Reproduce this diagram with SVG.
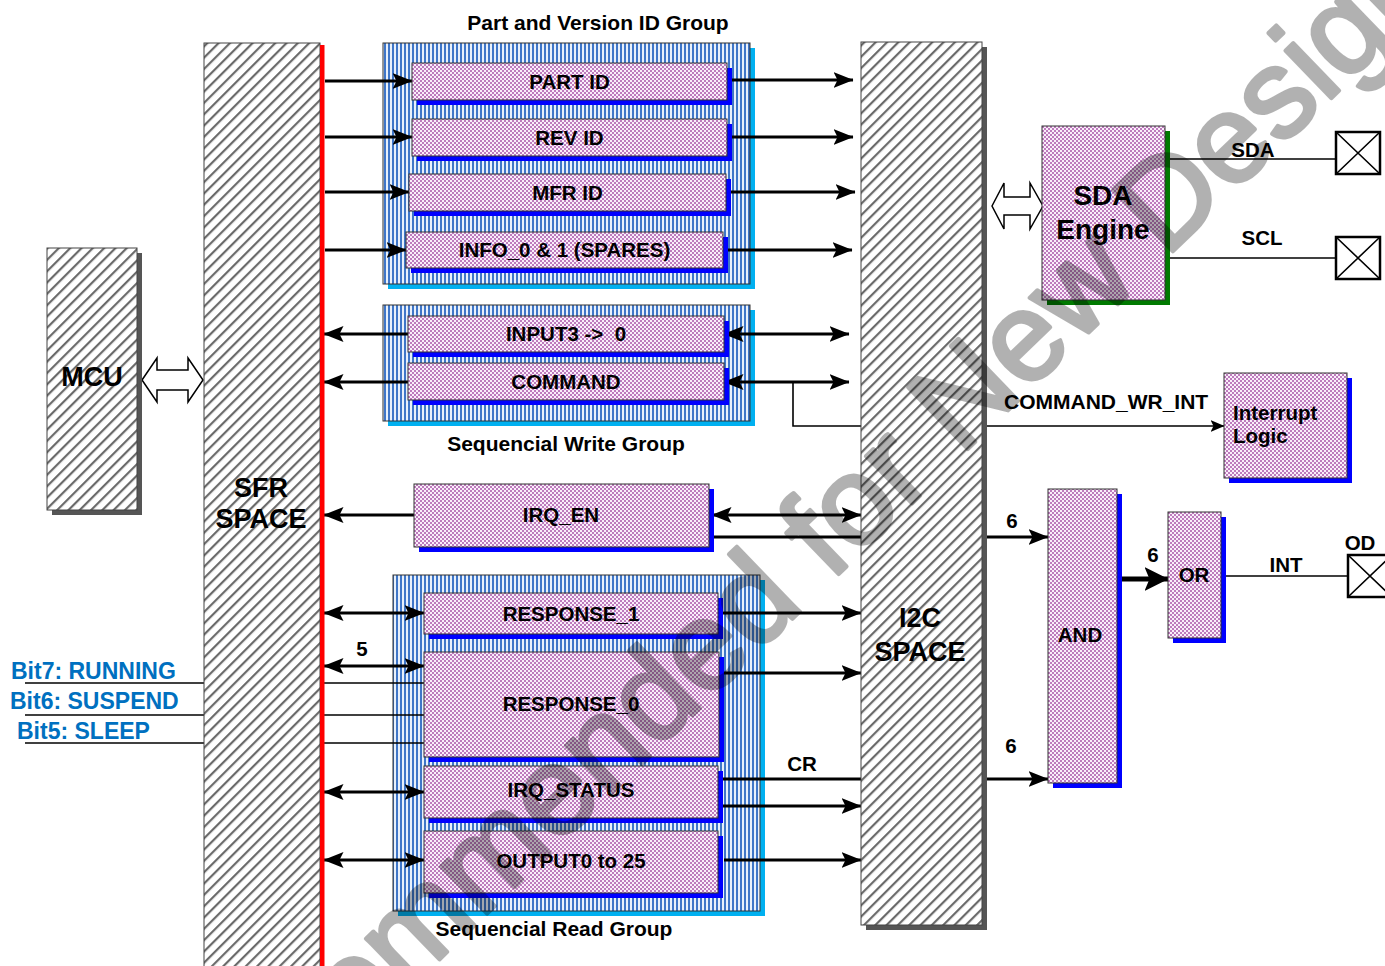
<svg xmlns="http://www.w3.org/2000/svg" width="1385" height="966" viewBox="0 0 1385 966">
<style>
text{font-family:"Liberation Sans",Arial,sans-serif;font-weight:bold;fill:#000}
.lbl{font-size:20.5px;text-anchor:middle}
.ttl{font-size:21px;text-anchor:middle}
.big{font-size:27px;text-anchor:middle}
.bit{font-size:23px;fill:#0070c0}
.reg{fill:url(#dots);stroke:#333;stroke-width:1}
.regsh{fill:#0000ff}
.grp{fill:url(#stripes);stroke:#333;stroke-width:1}
.grpsh{fill:#00b0f0}
.hat{fill:url(#hatch);stroke:#444;stroke-width:1}
.sh{fill:#555}
.w3{stroke:#000;stroke-width:3;fill:none}
.w1{stroke:#000;stroke-width:1.6;fill:none}
.pad{fill:#fff;stroke:#000;stroke-width:2.5}
.hollow{fill:#fff;stroke:#000;stroke-width:1.5}
</style>
<defs>
<pattern id="hatch" width="8" height="8" patternUnits="userSpaceOnUse" patternTransform="rotate(45)">
<rect width="8" height="8" fill="#fff"/>
<rect width="2.2" height="8" fill="#6a6a6a"/>
</pattern>
<pattern id="dots" width="4" height="4" patternUnits="userSpaceOnUse">
<rect width="4" height="4" fill="#faeefa"/>
<rect x="0" y="0" width="2" height="2" fill="#bd7bbd"/>
<rect x="2" y="2" width="2" height="2" fill="#bd7bbd"/>
</pattern>
<pattern id="stripes" width="4" height="4" patternUnits="userSpaceOnUse">
<rect width="4" height="4" fill="#e8f0fb"/>
<rect width="2" height="4" fill="#3f76c8"/>
</pattern>
<marker id="ah" markerUnits="userSpaceOnUse" viewBox="0 0 20 16" markerWidth="20" markerHeight="16" refX="19.5" refY="8" orient="auto-start-reverse">
<path d="M0,0 L20,8 L0,16 L4,8 Z" fill="#000"/>
</marker>
<marker id="ahs" markerUnits="userSpaceOnUse" viewBox="0 0 14 12" markerWidth="14" markerHeight="12" refX="13.5" refY="6" orient="auto">
<path d="M0,0 L14,6 L0,12 L3,6 Z" fill="#000"/>
</marker>
<marker id="ahb" markerUnits="userSpaceOnUse" viewBox="0 0 24 24" markerWidth="24" markerHeight="24" refX="23.5" refY="12" orient="auto">
<path d="M0,0 L24,12 L0,24 L5,12 Z" fill="#000"/>
</marker>
<marker id="dot" markerUnits="userSpaceOnUse" viewBox="0 0 8 8" markerWidth="8" markerHeight="8" refX="4" refY="4">
<circle cx="4" cy="4" r="3.5" fill="#000"/>
</marker>
</defs>
<rect width="1385" height="966" fill="#fff"/>

<!-- group containers -->
<g id="part-version-group">
<rect x="388" y="48" width="367" height="241" class="grpsh"/>
<rect x="383" y="43" width="367" height="241" class="grp"/>
<text x="598" y="30" class="ttl">Part and Version ID Group</text>
</g>
<g id="seq-write-group">
<rect x="388" y="310" width="367" height="116" class="grpsh"/>
<rect x="383" y="305" width="367" height="116" class="grp"/>
<text x="566" y="451" class="ttl">Sequencial Write Group</text>
</g>
<g id="seq-read-group">
<rect x="398" y="580" width="367" height="336" class="grpsh"/>
<rect x="393" y="575" width="367" height="336" class="grp"/>
<text x="554" y="936" class="ttl">Sequencial Read Group</text>
</g>

<!-- connectors -->
<g id="connectors">
<line x1="325" y1="81" x2="412" y2="81" class="w3" marker-end="url(#ah)"/>
<line x1="325" y1="137" x2="412" y2="137" class="w3" marker-end="url(#ah)"/>
<line x1="325" y1="192" x2="409" y2="192" class="w3" marker-end="url(#ah)"/>
<line x1="325" y1="250" x2="406" y2="250" class="w3" marker-end="url(#ah)"/>
<line x1="727" y1="80" x2="853" y2="80" class="w3" marker-end="url(#ah)"/>
<line x1="727" y1="137" x2="853" y2="137" class="w3" marker-end="url(#ah)"/>
<line x1="726" y1="192" x2="855" y2="192" class="w3" marker-end="url(#ah)"/>
<line x1="723" y1="250" x2="852" y2="250" class="w3" marker-end="url(#ah)"/>

<line x1="408" y1="334" x2="324" y2="334" class="w3" marker-end="url(#ah)"/>
<line x1="408" y1="382" x2="324" y2="382" class="w3" marker-end="url(#ah)"/>
<line x1="724" y1="334" x2="849" y2="334" class="w3" marker-start="url(#ah)" marker-end="url(#ah)"/>
<line x1="724" y1="382" x2="849" y2="382" class="w3" marker-start="url(#ah)" marker-end="url(#ah)"/>
<polyline points="793,382 793,426 1224,426" class="w1" marker-end="url(#ahs)"/>

<line x1="414" y1="515" x2="324" y2="515" class="w3" marker-end="url(#ah)"/>
<line x1="712" y1="515" x2="861" y2="515" class="w3" marker-start="url(#ah)" marker-end="url(#ah)"/>
<line x1="711" y1="537" x2="1048" y2="537" class="w3" marker-end="url(#ah)"/>

<line x1="324" y1="613" x2="424" y2="613" class="w3" marker-start="url(#ah)" marker-end="url(#ah)"/>
<line x1="324" y1="666" x2="424" y2="666" class="w3" marker-start="url(#ah)" marker-end="url(#ah)"/>
<line x1="324" y1="792" x2="424" y2="792" class="w3" marker-start="url(#ah)" marker-end="url(#ah)"/>
<line x1="324" y1="860" x2="424" y2="860" class="w3" marker-start="url(#ah)" marker-end="url(#ah)"/>
<line x1="718" y1="613" x2="861" y2="613" class="w3" marker-end="url(#ah)"/>
<line x1="724" y1="673" x2="861" y2="673" class="w3" marker-end="url(#ah)"/>
<line x1="718" y1="806" x2="861" y2="806" class="w3" marker-end="url(#ah)"/>
<line x1="724" y1="860" x2="861" y2="860" class="w3" marker-end="url(#ah)"/>
<line x1="718" y1="779" x2="1048" y2="779" class="w3" marker-end="url(#ah)"/>

<line x1="25" y1="683" x2="424" y2="683" class="w1"/>
<line x1="25" y1="715" x2="424" y2="715" class="w1"/>
<line x1="25" y1="743" x2="424" y2="743" class="w1"/>

<line x1="1165" y1="159" x2="1336" y2="159" class="w1"/>
<line x1="1165" y1="258" x2="1336" y2="258" class="w1"/>
<line x1="1116" y1="579" x2="1168" y2="579" stroke="#000" stroke-width="5" marker-start="url(#dot)" marker-end="url(#ahb)"/>
<line x1="1221" y1="576" x2="1348" y2="576" class="w1"/>

<polygon points="142,380 157,358 157,370 188,370 188,358 203,380 188,402 188,390 157,390 157,402" class="hollow"/>
<polygon points="992,206 1004,183 1004,197 1030,197 1030,183 1043,206 1030,229 1030,215 1004,215 1004,229" class="hollow"/>

<text x="362" y="656" class="lbl">5</text>
<text x="802" y="771" class="lbl">CR</text>
<text x="1012" y="528" class="lbl">6</text>
<text x="1011" y="753" class="lbl">6</text>
<text x="1153" y="562" class="lbl">6</text>
<text x="1004" y="409" style="font-size:21px">COMMAND_WR_INT</text>
<text x="1253" y="157" class="lbl">SDA</text>
<text x="1262" y="245" class="lbl">SCL</text>
<text x="1286" y="572" class="lbl">INT</text>
<text x="1360" y="550" class="lbl">OD</text>
<text x="11" y="679" class="bit">Bit7: RUNNING</text>
<text x="10" y="709" class="bit">Bit6: SUSPEND</text>
<text x="17" y="739" class="bit">Bit5: SLEEP</text>
</g>

<!-- nodes -->
<g id="mcu">
<rect x="52" y="253" width="90" height="262" class="sh"/>
<rect x="47" y="248" width="90" height="262" class="hat"/>
<text x="92" y="386" class="big">MCU</text>
</g>
<g id="sfr-space">
<rect x="204" y="43" width="116" height="930" class="hat"/>
<rect x="320" y="45" width="4.5" height="925" fill="#ff0000"/>
<text x="261" y="497" class="big">SFR</text>
<text x="261" y="528" class="big">SPACE</text>
</g>
<g id="i2c-space">
<rect x="866" y="47" width="121" height="883" class="sh"/>
<rect x="861" y="42" width="121" height="883" class="hat"/>
<text x="920" y="627" class="big">I2C</text>
<text x="920" y="661" class="big">SPACE</text>
</g>

<g id="part-id"><rect x="417" y="68" width="315" height="37" class="regsh"/><rect x="412" y="63" width="315" height="37" class="reg"/><text x="569.5" y="88.5" class="lbl">PART ID</text></g>
<g id="rev-id"><rect x="417" y="124" width="315" height="37" class="regsh"/><rect x="412" y="119" width="315" height="37" class="reg"/><text x="569.5" y="144.5" class="lbl">REV ID</text></g>
<g id="mfr-id"><rect x="414" y="179" width="317" height="37" class="regsh"/><rect x="409" y="174" width="317" height="37" class="reg"/><text x="567.5" y="199.5" class="lbl">MFR ID</text></g>
<g id="info"><rect x="411" y="237" width="317" height="36" class="regsh"/><rect x="406" y="232" width="317" height="36" class="reg"/><text x="564.5" y="257" class="lbl">INFO_0 &amp; 1 (SPARES)</text></g>
<g id="input3"><rect x="413" y="321" width="316" height="36" class="regsh"/><rect x="408" y="316" width="316" height="36" class="reg"/><text x="566" y="341" class="lbl">INPUT3 -&gt;&#160; 0</text></g>
<g id="command"><rect x="413" y="368" width="316" height="37" class="regsh"/><rect x="408" y="363" width="316" height="37" class="reg"/><text x="566" y="388.5" class="lbl">COMMAND</text></g>
<g id="irq-en"><rect x="419" y="489" width="295" height="63" class="regsh"/><rect x="414" y="484" width="295" height="63" class="reg"/><text x="561" y="522" class="lbl">IRQ_EN</text></g>
<g id="response-1"><rect x="429" y="598" width="294" height="41" class="regsh"/><rect x="424" y="593" width="294" height="41" class="reg"/><text x="571" y="620.5" class="lbl">RESPONSE_1</text></g>
<g id="response-0"><rect x="429" y="657" width="295" height="105" class="regsh"/><rect x="424" y="652" width="295" height="105" class="reg"/><text x="571" y="711" class="lbl">RESPONSE_0</text></g>
<g id="irq-status"><rect x="429" y="771" width="294" height="52" class="regsh"/><rect x="424" y="766" width="294" height="52" class="reg"/><text x="571" y="797" class="lbl">IRQ_STATUS</text></g>
<g id="output"><rect x="429" y="836" width="294" height="62" class="regsh"/><rect x="424" y="831" width="294" height="62" class="reg"/><text x="571" y="868" class="lbl">OUTPUT0 to 25</text></g>

<g id="sda-engine">
<rect x="1047" y="131" width="123" height="174" fill="#007a00"/>
<rect x="1042" y="126" width="123" height="174" class="reg"/>
<text x="1103" y="205" style="font-size:28px;text-anchor:middle">SDA</text>
<text x="1103" y="239" style="font-size:28px;text-anchor:middle">Engine</text>
</g>
<g id="sda-pad"><rect x="1336" y="132" width="44" height="42" class="pad"/><path d="M1336,132 L1380,174 M1380,132 L1336,174" class="w1"/></g>
<g id="scl-pad"><rect x="1336" y="237" width="44" height="42" class="pad"/><path d="M1336,237 L1380,279 M1380,237 L1336,279" class="w1"/></g>
<g id="od-pad"><rect x="1348" y="555" width="44" height="42" class="pad"/><path d="M1348,555 L1392,597 M1392,555 L1348,597" class="w1"/></g>
<g id="interrupt-logic">
<rect x="1229" y="378" width="123" height="105" class="regsh"/>
<rect x="1224" y="373" width="123" height="105" class="reg"/>
<text x="1233" y="420" style="font-size:20.5px">Interrupt</text>
<text x="1233" y="443" style="font-size:20.5px">Logic</text>
</g>
<g id="and">
<rect x="1053" y="494" width="69" height="294" class="regsh"/>
<rect x="1048" y="489" width="69" height="294" class="reg"/>
<text x="1080" y="642" class="lbl">AND</text>
</g>
<g id="or">
<rect x="1173" y="517" width="53" height="126" class="regsh"/>
<rect x="1168" y="512" width="53" height="126" class="reg"/>
<text x="1194" y="582" class="lbl">OR</text>
</g>

<g id="watermark" opacity="0.3">
<text transform="translate(31,1354) rotate(-44)" style="font-size:125px;font-weight:normal;fill:#000;stroke:#000;stroke-width:4;stroke-linejoin:round">Not Recommended for New Designs</text>
</g>
</svg>
